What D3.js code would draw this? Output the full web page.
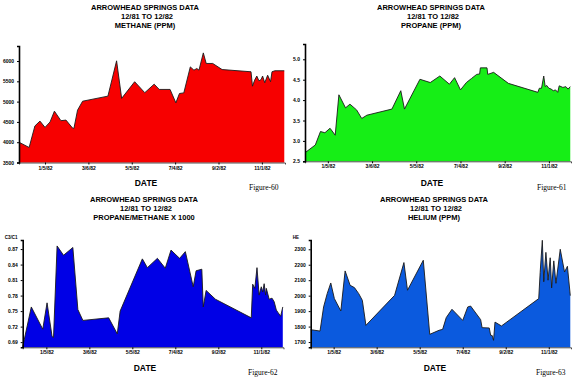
<!DOCTYPE html>
<html>
<head>
<meta charset="utf-8">
<script src="https://cdn.jsdelivr.net/npm/d3@7"></script>
<style>
	body { margin: 0; background: #fff; }
	svg { display: block; }
	.title { font-family: "Liberation Sans", Arial, sans-serif; font-weight: bold; font-size: 7.5px; text-anchor: middle; fill: #000; }
	.axlabel { font-family: "Liberation Sans", Arial, sans-serif; font-weight: bold; font-size: 8.5px; text-anchor: middle; fill: #000; }
	.fig { font-family: "Liberation Serif", "Times New Roman", serif; font-size: 7.5px; fill: #000; }
	.tick text { font-family: "Liberation Sans", Arial, sans-serif; font-weight: bold; font-size: 5px; }
</style>
</head>
<body>
<div id="vis"></div>
<script>

// tick dates shared by all four panels
var tickDates = ["1982-01-05", "1982-03-06", "1982-05-05", "1982-07-04", "1982-09-02", "1982-11-01"];

// METHANE (PPM)
var methaneDates = ["1981-11-30","1981-12-14","1981-12-22","1981-12-29","1982-01-05","1982-01-12","1982-01-18","1982-01-27","1982-02-03","1982-02-12","1982-02-14","1982-02-19","1982-02-26","1982-04-02","1982-04-14","1982-04-21","1982-05-09","1982-05-23","1982-06-05","1982-06-12","1982-06-27","1982-07-05","1982-07-10","1982-07-16","1982-07-25","1982-07-30","1982-08-03","1982-08-06","1982-08-12","1982-08-16","1982-08-25","1982-09-07","1982-10-17","1982-10-19","1982-10-22","1982-10-25","1982-10-28","1982-10-31","1982-11-02","1982-11-05","1982-11-09","1982-11-13","1982-11-15","1982-11-19","1982-12-02"];
var methaneValues = [4000,3870,4400,4520,4365,4500,4765,4530,4545,4350,4340,4790,5010,5135,6005,5080,5490,5220,5430,5300,5300,4970,5200,5215,5855,5775,5815,5775,6200,5940,5940,5790,5735,5380,5530,5630,5510,5545,5630,5465,5650,5490,5735,5760,5760];
var methaneTicks = [3500, 4000, 4500, 5000, 5500, 6000];

// PROPANE (PPM)
var propaneDates = ["1981-12-05","1981-12-19","1981-12-26","1982-01-01","1982-01-08","1982-01-15","1982-01-20","1982-01-29","1982-02-04","1982-02-13","1982-02-20","1982-02-27","1982-04-02","1982-04-14","1982-04-19","1982-05-10","1982-05-24","1982-06-06","1982-06-19","1982-06-26","1982-07-04","1982-07-12","1982-07-19","1982-07-26","1982-07-30","1982-07-31","1982-08-09","1982-08-10","1982-08-18","1982-09-07","1982-10-17","1982-10-19","1982-10-22","1982-10-25","1982-10-27","1982-10-29","1982-11-01","1982-11-04","1982-11-07","1982-11-10","1982-11-13","1982-11-15","1982-11-20","1982-11-24","1982-11-27","1982-11-30"];
var propaneValues = [2.71,2.90,3.23,3.20,3.31,3.14,4.13,3.81,3.90,3.76,3.55,3.63,3.78,4.23,3.78,4.51,4.43,4.59,4.39,4.55,4.25,4.43,4.53,4.63,4.64,4.79,4.79,4.63,4.68,4.41,4.19,4.29,4.29,4.59,4.33,4.36,4.29,4.27,4.23,4.25,4.19,4.35,4.31,4.33,4.27,4.33];
var propaneTicks = [2.5, 3.0, 3.5, 4.0, 4.5, 5.0];

// PROPANE/METHANE X 1000
var ratioDates = ["1981-12-03","1981-12-15","1981-12-31","1982-01-06","1982-01-13","1982-01-15","1982-01-20","1982-01-29","1982-02-11","1982-02-18","1982-02-25","1982-04-02","1982-04-14","1982-04-18","1982-05-19","1982-05-26","1982-06-09","1982-06-20","1982-06-28","1982-07-10","1982-07-18","1982-07-29","1982-08-02","1982-08-10","1982-08-12","1982-08-16","1982-08-29","1982-10-18","1982-10-20","1982-10-23","1982-10-26","1982-10-29","1982-11-01","1982-11-03","1982-11-05","1982-11-07","1982-11-08","1982-11-12","1982-11-16","1982-11-19","1982-11-22","1982-11-24","1982-11-28","1982-12-01"];
var ratioValues = [0.681,0.758,0.715,0.766,0.701,0.699,0.876,0.858,0.873,0.753,0.732,0.737,0.706,0.750,0.851,0.834,0.852,0.833,0.868,0.852,0.865,0.797,0.828,0.831,0.758,0.790,0.773,0.737,0.802,0.794,0.834,0.781,0.797,0.787,0.803,0.781,0.794,0.773,0.775,0.768,0.752,0.748,0.740,0.758];
var ratioTicks = [0.69, 0.72, 0.75, 0.78, 0.81, 0.84, 0.87];

// HELIUM (PPM)
var heliumDates = ["1981-12-04","1981-12-17","1981-12-22","1981-12-27","1982-01-01","1982-01-06","1982-01-15","1982-01-21","1982-01-28","1982-02-03","1982-02-09","1982-02-14","1982-02-19","1982-03-31","1982-04-13","1982-04-18","1982-05-10","1982-05-19","1982-06-01","1982-06-06","1982-06-11","1982-06-19","1982-07-04","1982-07-11","1982-07-15","1982-07-29","1982-07-31","1982-08-10","1982-08-12","1982-08-14","1982-08-16","1982-08-18","1982-08-27","1982-10-18","1982-10-20","1982-10-23","1982-10-25","1982-10-28","1982-10-31","1982-11-03","1982-11-05","1982-11-08","1982-11-11","1982-11-17","1982-11-23","1982-11-27","1982-12-01"];
var heliumValues = [1780,1771,1927,2013,2082,1981,1901,2160,2067,2052,2013,1970,1808,2002,2214,2035,2229,1750,1776,1782,1858,1912,1840,1927,1933,1845,1793,1791,1743,1743,1711,1829,1804,1981,2150,2358,2090,2280,2100,2245,2050,2225,2080,2300,2153,2190,2000];
var heliumTicks = [1700, 1800, 1900, 2000, 2100, 2200, 2300];


var parseDate = d3.timeParse("%Y-%m-%d");
var fmtDate = d3.timeFormat("%-m/%-d/%y");

var svg = d3.select("#vis").append("svg")
	.attr("width", 576)
	.attr("height", 381);


//////////////////////////////////////////////////////////////////////
/////////////////////////////  ONE PANEL  ////////////////////////////
//////////////////////////////////////////////////////////////////////

function drawPanel(p) {
	var data = p.dates.map(function(d, i) {
		return { date: parseDate(d), value: p.values[i] };
	});

	var x = d3.scaleTime()
		.domain([parseDate(p.start), parseDate(p.end)])
		.range([p.left, p.right]);

	var y = d3.scaleLinear()
		.domain(p.yDomain)
		.range([p.bottom, p.top]);

	var g = svg.append("g");

	// titles
	p.titles.forEach(function(t, i) {
		g.append("text")
			.attr("class", "title")
			.attr("x", p.titleX + (i == 1 ? 2 : 0))
			.attr("y", p.titleY + i * 8.8)
			.text(t);
	});

	// filled area under the series, dark outline on top
	var area = d3.area()
		.x(function(d) { return x(d.date); })
		.y0(y(p.yDomain[0]))
		.y1(function(d) { return y(d.value); });

	var line = d3.line()
		.x(function(d) { return x(d.date); })
		.y(function(d) { return y(d.value); });

	g.append("path")
		.datum(data)
		.attr("d", area)
		.attr("fill", p.color);

	g.append("path")
		.datum(data)
		.attr("d", line)
		.attr("fill", "none")
		.attr("stroke", "#1a1a1a")
		.attr("stroke-width", 0.9)
		.attr("stroke-linejoin", "round");

	// axes
	var xAxis = d3.axisBottom(x)
		.tickValues(tickDates.map(parseDate))
		.tickFormat(fmtDate)
		.tickSize(2)
		.tickPadding(1.5);

	var yAxis = d3.axisLeft(y)
		.tickValues(p.yTicks)
		.tickFormat(p.yFormat)
		.tickSize(2)
		.tickPadding(3);

	var gx = g.append("g")
		.attr("transform", "translate(0," + p.bottom + ")")
		.call(xAxis);
	gx.select(".domain").attr("stroke", "#222").attr("stroke-width", 0.8);

	var gy = g.append("g")
		.attr("transform", "translate(" + p.left + ",0)")
		.call(yAxis);
	gy.select(".domain").attr("stroke", "#000").attr("stroke-width", 1.6);

	g.selectAll(".tick line").attr("stroke", "#000");
	g.selectAll(".tick text").attr("fill", "#000");

	// unit label above the y axis (bottom panels only)
	if (p.unit) {
		g.append("text")
			.attr("x", p.left - 18)
			.attr("y", p.top - 1)
			.style("font-family", "Liberation Sans, Arial, sans-serif")
			.style("font-weight", "bold")
			.style("font-size", "4.5px")
			.attr("fill", "#000")
			.text(p.unit);
	}

	g.append("text")
		.attr("class", "axlabel")
		.attr("x", p.titleX + 1)
		.attr("y", p.dateY)
		.text("DATE");

	g.append("text")
		.attr("class", "fig")
		.attr("x", p.figX)
		.attr("y", p.figY)
		.text(p.fig);
}


drawPanel({
	dates: methaneDates, values: methaneValues, yTicks: methaneTicks,
	yDomain: [3500, 6370], yFormat: d3.format("d"),
	start: "1981-11-30", end: "1982-12-03",
	left: 19, right: 285, top: 46, bottom: 162.5,
	titles: ["ARROWHEAD SPRINGS DATA", "12/81 TO 12/82", "METHANE (PPM)"],
	titleX: 145, titleY: 10, dateY: 186, figX: 249, figY: 190,
	fig: "Figure-60", color: "#f70000"
});

drawPanel({
	dates: propaneDates, values: propaneValues, yTicks: propaneTicks,
	yDomain: [2.5, 5.375], yFormat: d3.format(".1f"),
	start: "1981-12-05", end: "1982-12-01",
	left: 305, right: 571, top: 44, bottom: 161.3,
	titles: ["ARROWHEAD SPRINGS DATA", "12/81 TO 12/82", "PROPANE (PPM)"],
	titleX: 431, titleY: 10, dateY: 186, figX: 537, figY: 190,
	fig: "Figure-61", color: "#16ee16"
});

drawPanel({
	dates: ratioDates, values: ratioValues, yTicks: ratioTicks,
	yDomain: [0.68, 0.8875], yFormat: d3.format(".2f"),
	start: "1981-12-03", end: "1982-12-02",
	left: 22.7, right: 283.5, top: 240, bottom: 347.3,
	titles: ["ARROWHEAD SPRINGS DATA", "12/81 TO 12/82", "PROPANE/METHANE X 1000"],
	titleX: 144, titleY: 202, dateY: 371, figX: 248, figY: 375,
	fig: "Figure-62", color: "#0000e6", unit: "C3/C1"
});

drawPanel({
	dates: heliumDates, values: heliumValues, yTicks: heliumTicks,
	yDomain: [1666, 2360], yFormat: d3.format("d"),
	start: "1981-12-04", end: "1982-12-02",
	left: 310.7, right: 571, top: 240, bottom: 347.3,
	titles: ["ARROWHEAD SPRINGS DATA", "12/81 TO 12/82", "HELIUM (PPM)"],
	titleX: 434, titleY: 202, dateY: 371, figX: 536, figY: 375,
	fig: "Figure-63", color: "#0b5ade", unit: "HE"
});

</script>
</body>
</html>
